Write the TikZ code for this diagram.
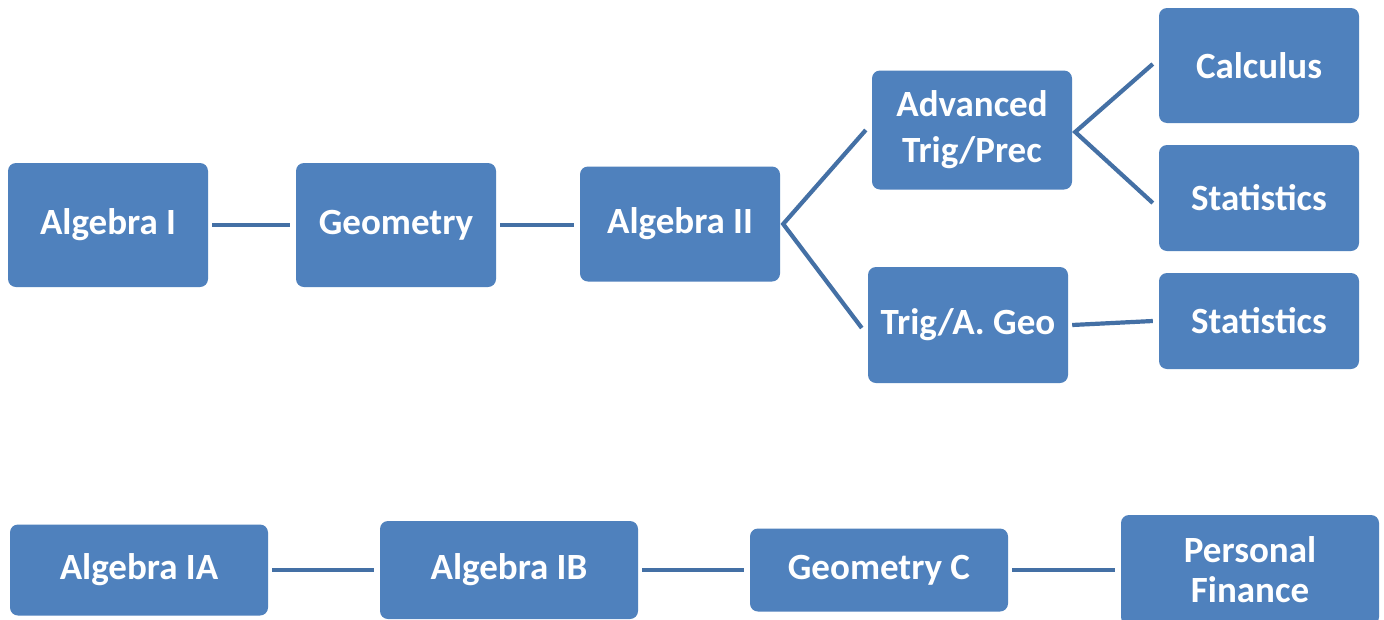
\documentclass[tikz,border=0pt]{standalone}
\usepackage{fontspec}
\setmainfont{Carlito}
\definecolor{boxblue}{HTML}{4F81BD}
\definecolor{lineblue}{HTML}{4470A5}
\begin{document}
\begin{tikzpicture}[x=1pt,y=-1pt,
  box/.style={fill=boxblue,draw=none,rounded corners=8pt,text=white,
    font=\fontsize{37}{46}\selectfont\bfseries,align=center,inner sep=0pt},
  conn/.style={draw=lineblue,line width=4.2pt}]
\useasboundingbox[fill=white] (0,0) rectangle (1384,619);
% top row
\node[box,minimum width=200pt,minimum height=124pt] (a1) at (108,225) {Algebra I};
\node[box,minimum width=200pt,minimum height=124pt] (geo) at (396,225) {Geometry};
\node[box,minimum width=200pt,minimum height=115pt] (a2) at (680,224) {Algebra II};
\node[box,minimum width=200pt,minimum height=119pt] (adv) at (972,130) {Advanced\\Trig/Prec};
\node[box,minimum width=200pt,minimum height=116pt] (tag) at (968,325) {Trig/A. Geo};
\node[box,minimum width=200pt,minimum height=115pt] (calc) at (1259,65.5) {Calculus};
\node[box,minimum width=200pt,minimum height=106pt] (st1) at (1259,198) {Statistics};
\node[box,minimum width=200pt,minimum height=96pt] (st2) at (1259,321) {Statistics};
% bottom row
\node[box,minimum width=258pt,minimum height=91pt] (aia) at (139,570) {Algebra IA};
\node[box,minimum width=258pt,minimum height=98pt] (aib) at (509,570) {Algebra IB};
\node[box,minimum width=258pt,minimum height=83pt] (gc) at (879,570) {Geometry C};
\node[box,minimum width=258pt,minimum height=110pt,
  font=\fontsize{37}{40}\selectfont\bfseries] (pf) at (1250,570) {Personal\\Finance};
% connectors
\coordinate (a2r) at ([xshift=3pt]a2.east);
\coordinate (advr) at ([xshift=3pt,yshift=-2pt]adv.east);
\draw[conn] ([xshift=4pt]a1.east) -- ([xshift=-6pt]geo.west);
\draw[conn] ([xshift=4pt]geo.east) -- ([xshift=-6pt,yshift=-1pt]a2.west);
\draw[conn,line join=miter] ([xshift=-6pt]adv.west) -- (a2r) -- ([xshift=-6pt,yshift=-3pt]tag.west);
\draw[conn,line join=miter] ([xshift=-6pt,yshift=1.5pt]calc.west) -- (advr) -- ([xshift=-6pt,yshift=-5pt]st1.west);
\draw[conn] ([xshift=4pt]tag.east) -- ([xshift=-6pt]st2.west);
\draw[conn] ([xshift=4pt]aia.east) -- ([xshift=-6pt]aib.west);
\draw[conn] ([xshift=4pt]aib.east) -- ([xshift=-6pt]gc.west);
\draw[conn] ([xshift=4pt]gc.east) -- ([xshift=-6pt]pf.west);
\end{tikzpicture}
\end{document}
